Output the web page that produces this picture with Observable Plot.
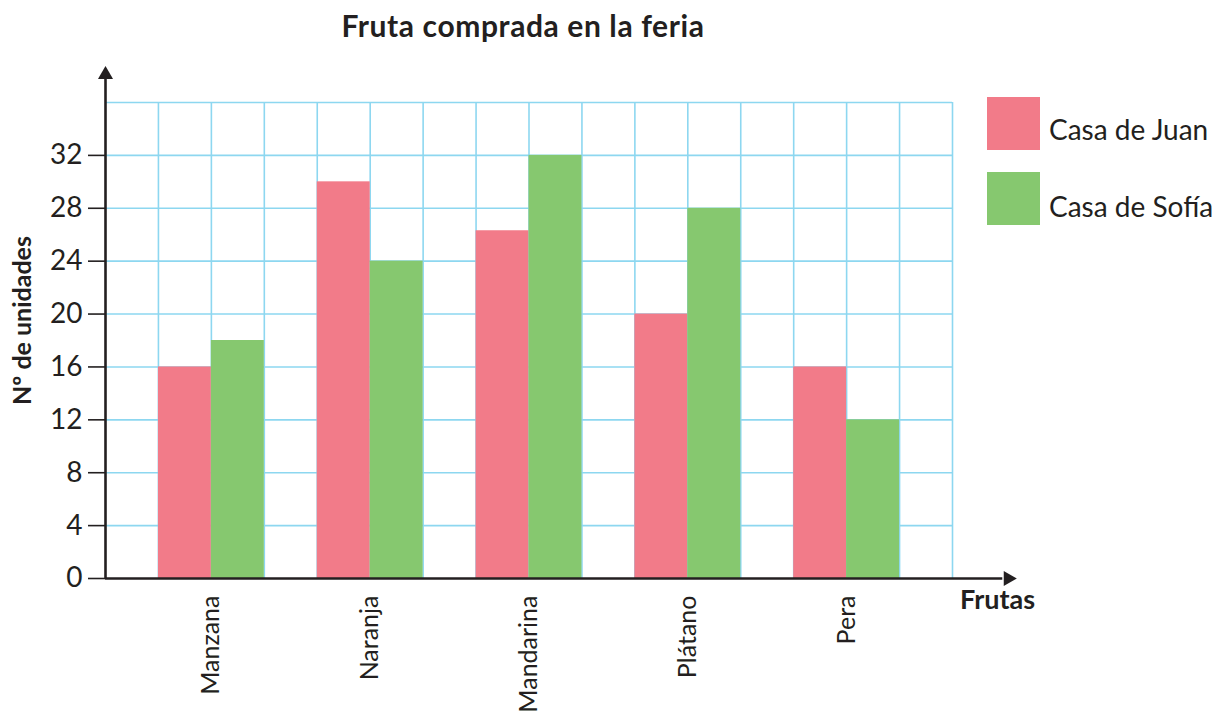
<!DOCTYPE html>
<html>
<head>
<meta charset="utf-8">
<script src="https://cdn.jsdelivr.net/npm/d3@7"></script>
<script src="https://cdn.jsdelivr.net/npm/@observablehq/plot@0.6"></script>
<style>
  body { margin: 0; background: #fff; font-family: Lato, "Open Sans", sans-serif; color: #231f20; }
  #wrap { position: relative; width: 1216px; height: 718px; overflow: hidden; }
  #title { position: absolute; left: 0; width: 1046px; top: 7px; text-align: center; font-weight: bold; font-size: 30px; line-height: 36px; letter-spacing: 0.6px; white-space: nowrap; }
  #chart { position: absolute; left: 0; top: 56px; }
  .leg { position: absolute; left: 987px; width: 53px; height: 53px; }
  .legt { position: absolute; left: 1049px; font-size: 28px; line-height: 30px; letter-spacing: 0px; white-space: nowrap; }
</style>
</head>
<body>
<div id="wrap">
  <div id="title">Fruta comprada en la feria</div>
  <div id="chart"></div>
  <div class="leg" id="leg1" style="top:97px;"></div>
  <div class="legt" id="legt1" style="top:114px;"></div>
  <div class="leg" id="leg2" style="top:172px;"></div>
  <div class="legt" id="legt2" style="top:191px;"></div>
</div>
<script>
// ---- data ----
const fruits = ["Manzana", "Naranja", "Mandarina", "Plátano", "Pera"];
const seriesNames = ["Casa de Juan", "Casa de Sofía"];
const juan = [16, 30, 26.3, 20, 16];
const sofia = [18, 24, 32, 28, 12];
const yTicks = [0, 4, 8, 12, 16, 20, 24, 28, 32];
const yTitle = "Nº de unidades";
const xTitle = "Frutas";

// ---- style ----
const pink = "#F27B89";
const green = "#86C86F";
const gridColor = "#8DD7F0";
const ink = "#231F20";

document.getElementById("leg1").style.background = pink;
document.getElementById("leg2").style.background = green;
document.getElementById("legt1").textContent = seriesNames[0];
document.getElementById("legt2").textContent = seriesNames[1];

// layout: 3 grid columns per fruit (gap, Juan, Sofía) + one trailing column
const nCols = fruits.length * 3 + 1;
const yMax = 36;
const xArrowEnd = nCols + 1.05;
const yArrowEnd = yMax + 2.1;

const rows = fruits.flatMap((f, i) => [
  {fruit: f, series: seriesNames[0], value: juan[i], x1: 3 * i + 1, x2: 3 * i + 2},
  {fruit: f, series: seriesNames[1], value: sofia[i], x1: 3 * i + 2, x2: 3 * i + 3}
]);
const labels = fruits.map((f, i) => ({fruit: f, x: 3 * i + 2}));

const plot = Plot.plot({
  width: 1216,
  height: 662,
  marginLeft: 105,
  marginRight: 264,
  marginTop: 46,
  marginBottom: 140,
  style: {fontFamily: "Lato, 'Open Sans', sans-serif", color: ink, background: "transparent", overflow: "visible"},
  x: {domain: [0, nCols], axis: null},
  y: {domain: [0, yMax], axis: null},
  color: {domain: seriesNames, range: [pink, green]},
  marks: [
    // grid
    Plot.ruleY(d3.range(4, yMax + 1, 4), {x1: 0, x2: nCols, stroke: gridColor, strokeWidth: 1.6}),
    Plot.ruleX(d3.range(1, nCols + 1), {y1: 0, y2: yMax, stroke: gridColor, strokeWidth: 1.6}),
    // bars
    Plot.rect(rows, {x1: "x1", x2: "x2", y1: 0, y2: "value", fill: "series"}),
    // y axis ticks + labels
    Plot.axisY(yTicks, {anchor: "left", tickSize: 17, tickPadding: 6, fontSize: 28, stroke: ink, strokeWidth: 1.6, fill: ink, label: null}),
    // axis lines
    Plot.ruleY([0], {x1: 0, x2: xArrowEnd - 0.1, stroke: ink, strokeWidth: 2.6, clip: false}),
    Plot.ruleX([0], {y1: 0, y2: yArrowEnd - 0.3, stroke: ink, strokeWidth: 2.6, clip: false}),
    // arrowheads
    Plot.dot([0], {x: 0, y: yArrowEnd, symbol: "triangle", r: 5.6, fill: ink, stroke: null, clip: false}),
    Plot.dot([0], {x: xArrowEnd, y: 0, symbol: "triangle", r: 5.6, rotate: 90, fill: ink, stroke: null, clip: false}),
    // x category labels
    Plot.text(labels, {x: "x", frameAnchor: "bottom", text: "fruit", rotate: -90, textAnchor: "end", dy: 17, fontSize: 25, fill: ink, lineAnchor: "middle"}),
    // x title
    Plot.text([xTitle], {x: nCols + 0.85, frameAnchor: "bottom", textAnchor: "middle", text: d => d, dy: 30, fontSize: 27, fontWeight: "bold", fill: ink, letterSpacing: 0.6}),
    // y title
    Plot.text([yTitle], {frameAnchor: "left", textAnchor: "middle", text: d => d, rotate: -90, dx: -83, dy: -20, fontSize: 25, fontWeight: "bold", fill: ink, letterSpacing: 0.8})
  ]
});
document.getElementById("chart").appendChild(plot);
</script>
</body>
</html>
